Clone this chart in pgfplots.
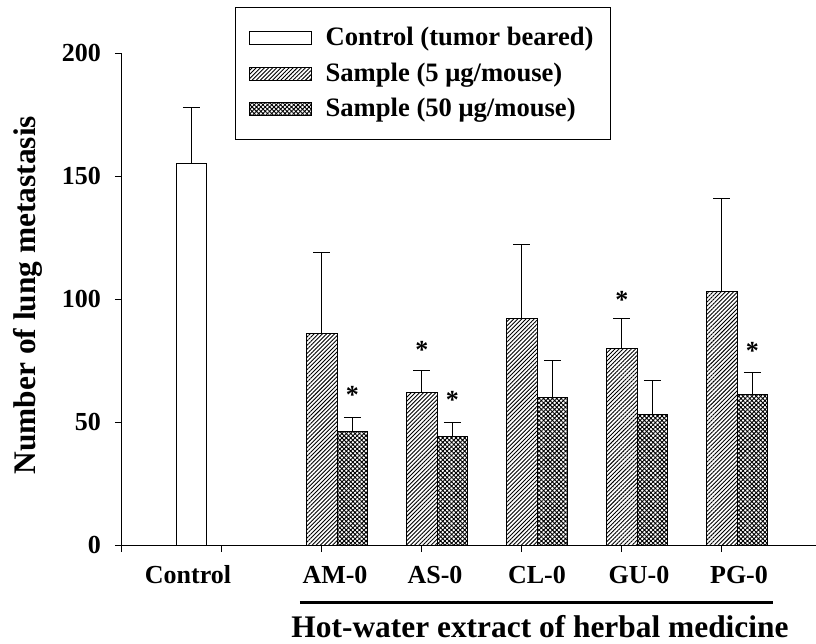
\documentclass[border=0pt]{standalone}
\usepackage{fontspec}
\setmainfont{Liberation Serif}
\usepackage{pgfplots}
\usepackage{pgfplotstable}
\pgfplotsset{compat=1.18}
\usetikzlibrary{patterns.meta}

% group positions: control bar left of slot 0, 5 ug at k, 50 ug at k+0.305
\pgfplotstableread{
x y e
-0.305 155 23
}\ctrl
\pgfplotstableread{
x y e
1 86 33
2 62 9
3 92 30
4 80 12
5 103 38
}\lowdose
\pgfplotstableread{
x y e
1.305 46 6
2.305 44 6
3.305 60 15
4.305 53 14
5.305 61 9
}\highdose

\newcommand{\tickfont}{\fontsize{13}{13}\selectfont\bfseries}
\newcommand{\legfont}{\fontsize{13.3}{13.3}\selectfont\bfseries}
\newcommand{\labfont}{\fontsize{15.7}{15.7}\selectfont\bfseries}

\begin{document}
\begin{tikzpicture}
\useasboundingbox (-61pt,-49.5pt) rectangle (347pt,272.5pt);
\begin{axis}[
  at={(0pt,0pt)}, anchor=south west,
  scale only axis, width=347pt, height=246pt,
  xmin=-1, xmax=5.94, ymin=0, ymax=200,
  axis lines*=left,
  axis line style={line width=0.5pt},
  xtick={-1,0,1,2,3,4,5}, xticklabels={},
  ytick={0,50,100,150,200},
  tick style={black, line width=0.5pt},
  tick align=outside, major tick length=3.5pt,
  ticklabel style={font=\tickfont},
  yticklabel style={xshift=-3.5pt},
  /pgf/number format/assume math mode=true,
  ylabel={Number of lung metastasis},
  every axis y label/.style={at={(axis description cs:-0.136,0.508)}, rotate=90, anchor=center, font=\labfont},
  xlabel={Hot-water extract of herbal medicine},
  every axis x label/.style={at={(axis description cs:0.6023,-0.189)}, anchor=base, font=\labfont},
  ybar, bar width=15.25pt, bar shift=0pt,
  clip=false,
  legend image code/.code={\draw[#1,/tikz/.cd] (0pt,-3.25pt) rectangle (31pt,3.25pt);},
  legend style={at={(axis description cs:0.163,1.0935)}, anchor=north west,
    draw=black, line width=0.5pt, font=\legfont, legend cell align=left,
    inner xsep=6.5pt, inner ysep=8pt, row sep=3pt,
    /tikz/every odd column/.append style={column sep=5pt}},
  error bars/y dir=plus, error bars/y explicit,
  error bars/error bar style={line width=0.5pt, black},
  error bars/error mark options={rotate=90, line width=0.5pt, black, mark size=4.25pt},
]
\addplot[draw=black, line width=0.5pt, fill=white]
  table[x=x, y=y, y error=e] {\ctrl};
\addlegendentry{Control (tumor beared)}
\addplot[draw=black, line width=0.5pt, pattern={Lines[angle=45,distance=1.45pt,line width=0.45pt]}]
  table[x=x, y=y, y error=e] {\lowdose};
\addlegendentry{Sample (5 μg/mouse)}
\addplot[draw=black, line width=0.5pt, pattern={Hatch[angle=45,distance=1.55pt,line width=0.45pt]}]
  table[x=x, y=y, y error=e] {\highdose};
\addlegendentry{Sample (50 μg/mouse)}

% category names
\foreach \px/\name in {-0.34/Control, 1.13/AM-0, 2.13/AS-0, 3.15/CL-0, 4.17/GU-0, 5.17/PG-0}{
  \edef\tmp{\noexpand\node[anchor=base, font=\noexpand\tickfont, inner sep=0pt]
    at ([yshift=-19pt]axis cs:\px,0) {\name};}\tmp
}
% bracket under the extract groups
\draw[line width=1.5pt] ([yshift=-28.5pt]axis cs:0.78,0) -- ([yshift=-28.5pt]axis cs:5.51,0);

% significance marks
\foreach \px/\py in {1.305/57.4, 2/75.8, 2.305/55.3, 4/96.0, 5.305/75.3}{
  \edef\tmp{\noexpand\node[anchor=base, font=\noexpand\tickfont, inner sep=0pt]
    at (axis cs:\px,\py) {*};}\tmp
}
\end{axis}
\end{tikzpicture}
\end{document}
